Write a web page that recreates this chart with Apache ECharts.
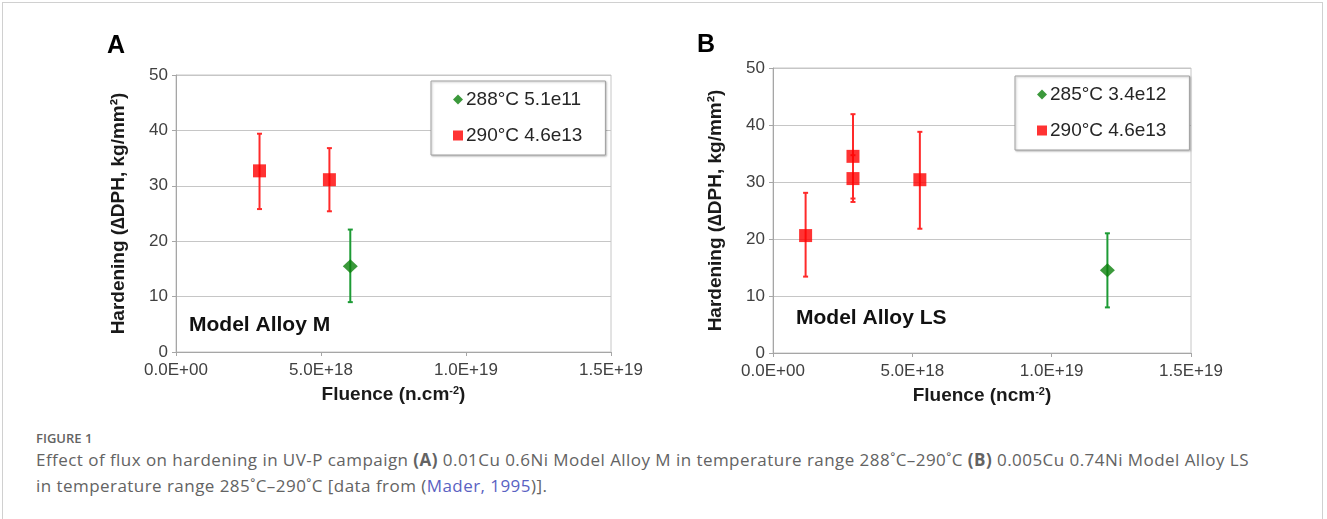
<!DOCTYPE html>
<html>
<head>
<meta charset="utf-8">
<script src="https://cdn.jsdelivr.net/npm/echarts@6/dist/echarts.min.js"></script>
<style>
  html, body { margin: 0; padding: 0; background: #fff; }
  #frame { position: absolute; left: 2px; top: 2px; width: 1321px; height: 540px; border: 1px solid #d0d0d0; box-sizing: border-box; }
  #chart { position: absolute; left: 0; top: 0; width: 1327px; height: 420px; }
  #caption { position: absolute; left: 36px; top: 430px; width: 1285px; font-family: "Open Sans", Lato, sans-serif; color: #636363; }
  #caption .fig { font-size: 13px; font-weight: 600; line-height: 17px; }
  #caption .txt { font-size: 17px; line-height: 26px; letter-spacing: 0.45px; white-space: nowrap; }
  #caption b { font-weight: 700; }
  #caption a { color: #5a62c2; text-decoration: none; }
</style>
</head>
<body>
<div id="frame"></div>
<div id="chart"></div>
<div id="caption">
  <div class="fig">FIGURE 1</div>
  <div class="txt">Effect of flux on hardening in UV-P campaign <b>(A)</b> 0.01Cu 0.6Ni Model Alloy M in temperature range 288˚C–290˚C <b>(B)</b> 0.005Cu 0.74Ni Model Alloy LS<br>in temperature range 285˚C–290˚C [data from (<a>Mader, 1995</a>)].</div>
</div>
<script>
// ---- Data ----
const xTickLabels = ['0.0E+00', '5.0E+18', '1.0E+19', '1.5E+19'];

// Panel A: Model Alloy M
const aGreenName = '288°C 5.1e11';
const aGreenX = [6.01e18];
const aGreenY = [15.5];
const aGreenLo = [9.0];
const aGreenHi = [22.1];

const aRedName = '290°C 4.6e13';
const aRedX = [2.88e18, 5.29e18];
const aRedY = [32.7, 31.1];
const aRedLo = [25.8, 25.4];
const aRedHi = [39.4, 36.8];

// Panel B: Model Alloy LS
const bGreenName = '285°C 3.4e12';
const bGreenX = [12.0e18];
const bGreenY = [14.5];
const bGreenLo = [8.0];
const bGreenHi = [21.0];

const bRedName = '290°C 4.6e13';
const bRedX = [1.17e18, 2.87e18, 2.87e18, 5.27e18];
const bRedY = [20.6, 34.5, 30.6, 30.4];
const bRedLo = [13.4, 27.1, 26.5, 21.8];
const bRedHi = [28.1, 41.9, 34.7, 38.8];

// ---- Helpers ----
const RED = '#ff0000', RED_BAR = '#ff2a2a';
const GREEN = '#0a7f0a', GREEN_BAR = '#1d9b35';
const FONT = '"Liberation Sans", Arial, sans-serif';

function pts(xs, ys) { return xs.map((x, i) => [x, ys[i]]); }
function errs(xs, lo, hi) { return xs.map((x, i) => [x, lo[i], hi[i]]); }

function errRender(color) {
  return function (params, api) {
    const x = api.value(0);
    const p1 = api.coord([x, api.value(1)]);
    const p2 = api.coord([x, api.value(2)]);
    const cw = 2.5;
    const st = { stroke: color, lineWidth: 2 };
    return {
      type: 'group',
      children: [
        { type: 'line', shape: { x1: p1[0], y1: p1[1], x2: p2[0], y2: p2[1] }, style: st },
        { type: 'line', shape: { x1: p1[0] - cw, y1: p1[1], x2: p1[0] + cw, y2: p1[1] }, style: st },
        { type: 'line', shape: { x1: p2[0] - cw, y1: p2[1], x2: p2[0] + cw, y2: p2[1] }, style: st }
      ]
    };
  };
}

function xAxis(idx, nameMid) {
  return {
    type: 'value', gridIndex: idx, min: 0, max: 1.5e19, interval: 5e18,
    axisLine: { show: true, lineStyle: { color: '#a6a6a6', width: 1 } },
    axisTick: { show: true, length: 4, lineStyle: { color: '#a6a6a6' } },
    splitLine: { show: false },
    axisLabel: {
      fontSize: 17, color: '#404040', fontFamily: FONT, margin: 10,
      formatter: v => xTickLabels[Math.round(v / 5e18)]
    },
    name: nameMid,
    nameLocation: 'middle', nameGap: 33,
    nameTextStyle: {
      fontFamily: FONT, fontWeight: 'bold', fontSize: 19, color: '#1a1a1a',
      rich: {
        a: { fontFamily: FONT, fontWeight: 'bold', fontSize: 19, color: '#1a1a1a' },
        s: { fontFamily: FONT, fontWeight: 'bold', fontSize: 11, color: '#1a1a1a', verticalAlign: 'top', padding: [0, 0, 7, 0] }
      }
    }
  };
}

function yAxis(idx) {
  return {
    type: 'value', gridIndex: idx, min: 0, max: 50, interval: 10,
    axisLine: { show: true, lineStyle: { color: '#a6a6a6', width: 1 } },
    axisTick: { show: true, length: 4, lineStyle: { color: '#a6a6a6' } },
    splitLine: { show: true, lineStyle: { color: '#c6c6c6', width: 1.2 } },
    axisLabel: { fontSize: 17, color: '#404040', fontFamily: FONT, margin: 8 },
    name: 'Hardening (∆DPH, kg/mm²)',
    nameLocation: 'middle', nameGap: 48,
    nameTextStyle: { fontFamily: FONT, fontWeight: 'bold', fontSize: 19, color: '#1a1a1a' }
  };
}

function legend(left, top, names) {
  return {
    left: left, top: top, orient: 'vertical',
    data: [{ name: names[0], icon: 'diamond' }, { name: names[1], icon: 'rect' }],
    itemWidth: 10, itemHeight: 10, itemGap: 17,
    padding: [9, 23, 10, 22],
    borderColor: '#a0a0a0', borderWidth: 1, backgroundColor: '#fff',
    shadowColor: 'rgba(0,0,0,0.25)', shadowBlur: 2, shadowOffsetX: 1, shadowOffsetY: 1,
    textStyle: { fontFamily: FONT, fontSize: 19, color: '#262626', padding: [0, 0, 0, -2] },
    selectedMode: false
  };
}

const chart = echarts.init(document.getElementById('chart'), null, { renderer: 'canvas' });
const xName = '{a|Fluence (n.cm}{s|-2}{a|)}';
const xNameB = '{a|Fluence (ncm}{s|-2}{a|)}';

chart.setOption({
  animation: false,
  grid: [
    { left: 176, top: 75, width: 435, height: 277, show: true, borderColor: '#c6c6c6', borderWidth: 1, backgroundColor: 'transparent' },
    { left: 773, top: 68, width: 418, height: 285, show: true, borderColor: '#c6c6c6', borderWidth: 1, backgroundColor: 'transparent' }
  ],
  xAxis: [xAxis(0, xName), xAxis(1, xNameB)],
  yAxis: [yAxis(0), yAxis(1)],
  legend: [
    legend(431, 81, [aGreenName, aRedName]),
    legend(1015, 76, [bGreenName, bRedName])
  ],
  graphic: [
    { type: 'text', x: 107, y: 46, style: { text: 'A', font: 'bold 25px ' + FONT, fill: '#000', textVerticalAlign: 'middle' } },
    { type: 'text', x: 697, y: 45, style: { text: 'B', font: 'bold 25px ' + FONT, fill: '#000', textVerticalAlign: 'middle' } },
    { type: 'text', x: 189, y: 325, style: { text: 'Model Alloy M', font: 'bold 21px ' + FONT, fill: '#111', textVerticalAlign: 'middle' } },
    { type: 'text', x: 796, y: 318, style: { text: 'Model Alloy LS', font: 'bold 21px ' + FONT, fill: '#111', textVerticalAlign: 'middle' } }
  ],
  series: [
    { type: 'custom', name: 'errA-g', xAxisIndex: 0, yAxisIndex: 0, z: 1, renderItem: errRender(GREEN_BAR), data: errs(aGreenX, aGreenLo, aGreenHi), encode: { x: 0, y: [1, 2] } },
    { type: 'custom', name: 'errA-r', xAxisIndex: 0, yAxisIndex: 0, z: 1, renderItem: errRender(RED_BAR), data: errs(aRedX, aRedLo, aRedHi), encode: { x: 0, y: [1, 2] } },
    { type: 'scatter', name: aGreenName, xAxisIndex: 0, yAxisIndex: 0, z: 3, symbol: 'diamond', symbolSize: [15, 14], itemStyle: { color: GREEN }, data: pts(aGreenX, aGreenY) },
    { type: 'scatter', name: aRedName, xAxisIndex: 0, yAxisIndex: 0, z: 3, symbol: 'rect', symbolSize: 13, itemStyle: { color: RED }, data: pts(aRedX, aRedY) },

    { type: 'custom', name: 'errB-g', xAxisIndex: 1, yAxisIndex: 1, z: 1, renderItem: errRender(GREEN_BAR), data: errs(bGreenX, bGreenLo, bGreenHi), encode: { x: 0, y: [1, 2] } },
    { type: 'custom', name: 'errB-r', xAxisIndex: 1, yAxisIndex: 1, z: 1, renderItem: errRender(RED_BAR), data: errs(bRedX, bRedLo, bRedHi), encode: { x: 0, y: [1, 2] } },
    { type: 'scatter', name: bGreenName, xAxisIndex: 1, yAxisIndex: 1, z: 3, symbol: 'diamond', symbolSize: [15, 14], itemStyle: { color: GREEN }, data: pts(bGreenX, bGreenY) },
    { type: 'scatter', name: bRedName, xAxisIndex: 1, yAxisIndex: 1, z: 3, symbol: 'rect', symbolSize: 13, itemStyle: { color: RED }, data: pts(bRedX, bRedY) }
  ]
});
</script>
</body>
</html>
